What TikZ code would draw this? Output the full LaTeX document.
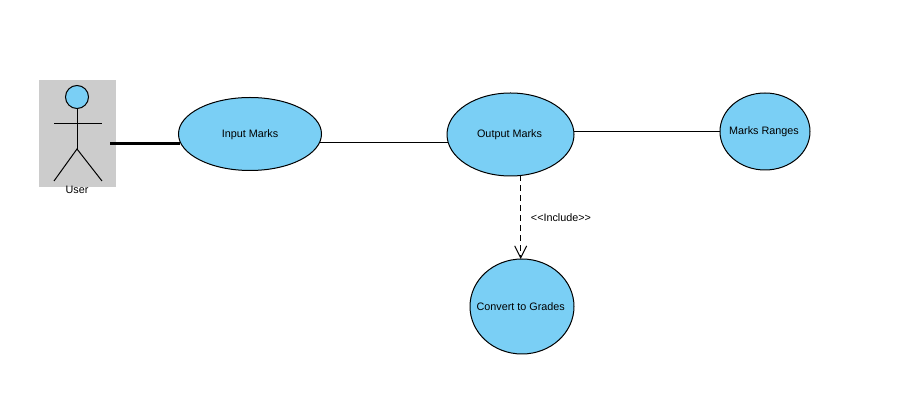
\documentclass[tikz,border=0pt]{standalone}
\usepackage{fontspec}
\setmainfont{Liberation Sans}
\usetikzlibrary{shapes.geometric,arrows.meta}
\definecolor{ucfill}{RGB}{122,207,245}
\definecolor{actorbg}{RGB}{204,204,204}
\tikzset{
  usecase/.style={ellipse,draw=black,fill=ucfill,line width=0.75pt,inner sep=0pt,outer sep=0pt},
  link/.style={draw=black,line width=0.75pt},
  stick/.style={draw=black,line width=0.75pt},
  lbl/.style={font=\fontsize{8.1pt}{9pt}\selectfont,inner sep=0pt,text=black}
}
\begin{document}
\begin{tikzpicture}[x=0.75pt,y=-0.75pt]
\useasboundingbox (0,0) rectangle (897,402);
\fill[white] (0,0) rectangle (897,402);
\fill[actorbg] (39,80) rectangle (116,187);
\node[circle,draw=black,fill=ucfill,line width=0.75pt,minimum size=17.25pt,inner sep=0pt,outer sep=0pt] (head) at (77,97) {};
\coordinate (hip) at (77,149);
\coordinate (armL) at (54,124);
\coordinate (armR) at (102,124);
\coordinate (footL) at (54,181);
\coordinate (footR) at (102,181);
\coordinate (free) at (110,143.5);
\draw[stick] (head.south) -- (hip);
\draw[stick] (armL) -- (armR);
\draw[stick] (footL) -- (hip) -- (footR);
\node[lbl] (user) at (77,190) {User};
\node[usecase,minimum width=107.25pt,minimum height=54.75pt,label={[lbl,yshift=-0.4pt]center:Input Marks}] (input) at (250,134) {};
\node[usecase,minimum width=95.25pt,minimum height=62.25pt,label={[lbl,xshift=-0.75pt,yshift=-0.4pt]center:Output Marks}] (output) at (510.5,134.5) {};
\node[usecase,minimum width=67.5pt,minimum height=57.75pt,label={[lbl,xshift=-0.75pt,yshift=-0.4pt]center:Marks Ranges}] (ranges) at (765,131.5) {};
\node[usecase,minimum width=78pt,minimum height=71.25pt,label={[lbl,xshift=-1pt,yshift=-0.4pt]center:Convert to Grades}] (convert) at (522,306.5) {};
\draw[link,line width=2.25pt] (free) -- (input.187.3 |- free);
\draw[link] (input.-7) -- (output.186.8 |- input.-7);
\draw[link] (output.3.2) -- (ranges.west |- output.3.2);
\draw[link,dash pattern=on 4.5pt off 3pt,-{Straight Barb[length=9pt,width=9pt,line width=0.75pt]}] (output.-76) -- (output.-76 |- convert.north);
\node[lbl] (inc) at (561,217.5) {<{}<Include>{}>};
\end{tikzpicture}
\end{document}
